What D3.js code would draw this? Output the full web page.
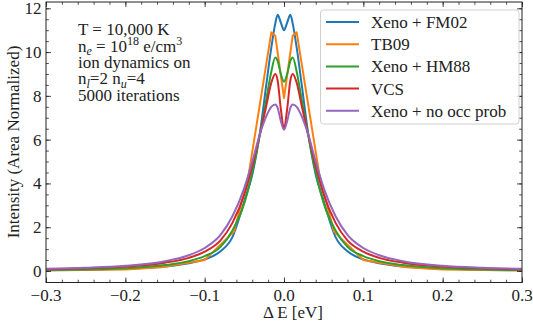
<!DOCTYPE html>
<html>
<head>
<meta charset="utf-8">
<script src="https://cdn.jsdelivr.net/npm/d3@7"></script>
</head>
<body style="margin:0">
<svg id="chart" width="533" height="327"></svg>
<script>
// energy grid (eV) for the smooth curves
var energy = [-0.3, -0.25, -0.2, -0.15, -0.12, -0.1, -0.08, -0.065, -0.05, -0.04, -0.03, -0.022, -0.016, -0.011, -0.008, -0.004, 0,
              0.004, 0.008, 0.011, 0.016, 0.022, 0.03, 0.04, 0.05, 0.065, 0.08, 0.1, 0.12, 0.15, 0.2, 0.25, 0.3];

var xenoFM02 = [0.03, 0.05, 0.1, 0.2, 0.35, 0.53, 0.9, 1.55, 3.2, 4.4, 6.4, 8.6, 10.2, 11.3, 11.7, 11.35, 11.0,
                11.35, 11.7, 11.3, 10.2, 8.6, 6.4, 4.4, 3.2, 1.55, 0.9, 0.53, 0.35, 0.2, 0.1, 0.05, 0.03];
var xenoHM88 = [0.04, 0.07, 0.13, 0.27, 0.45, 0.68, 1.1, 1.85, 3.1, 4.5, 6.3, 7.9, 9.1, 9.75, 9.6, 9.0, 8.65,
                9.0, 9.6, 9.75, 9.1, 7.9, 6.3, 4.5, 3.1, 1.85, 1.1, 0.68, 0.45, 0.27, 0.13, 0.07, 0.04];
var vcs      = [0.07, 0.12, 0.2, 0.38, 0.6, 0.88, 1.4, 2.2, 3.5, 4.8, 6.3, 7.6, 8.6, 9.0, 8.7, 7.4, 6.5,
                7.4, 8.7, 9.0, 8.6, 7.6, 6.3, 4.8, 3.5, 2.2, 1.4, 0.88, 0.6, 0.38, 0.2, 0.12, 0.07];
var xenoNoOcc = [0.1, 0.15, 0.24, 0.45, 0.72, 1.05, 1.65, 2.5, 3.8, 5.0, 6.3, 7.1, 7.5, 7.6, 7.45, 6.85, 6.45,
                 6.85, 7.45, 7.6, 7.5, 7.1, 6.3, 5.0, 3.8, 2.5, 1.65, 1.05, 0.72, 0.45, 0.24, 0.15, 0.1];

// TB09 is tabulated on a coarse grid
var energyTB09 = [-0.3, -0.2, -0.155, -0.1, -0.063, -0.045, -0.016, -0.011, 0, 0.011, 0.016, 0.045, 0.063, 0.1, 0.155, 0.2, 0.3];
var tb09 = [0.03, 0.07, 0.17, 0.5, 1.8, 4.3, 10.9, 10.75, 7.9, 10.75, 10.9, 4.3, 1.8, 0.5, 0.17, 0.07, 0.03];

var seriesNames = ["Xeno + FM02", "TB09", "Xeno + HM88", "VCS", "Xeno + no occ prob"];
var seriesColors = ["#1f77b4", "#ff7f0e", "#2ca02c", "#d62728", "#9467bd"];

var xTicks = [-0.3, -0.2, -0.1, 0.0, 0.1, 0.2, 0.3];
var yTicks = [0, 2, 4, 6, 8, 10, 12];

var series = [
  { name: seriesNames[0], x: energy, y: xenoFM02, color: seriesColors[0], curve: d3.curveMonotoneX },
  { name: seriesNames[1], x: energyTB09, y: tb09, color: seriesColors[1], curve: d3.curveLinear },
  { name: seriesNames[2], x: energy, y: xenoHM88, color: seriesColors[2], curve: d3.curveMonotoneX },
  { name: seriesNames[3], x: energy, y: vcs, color: seriesColors[3], curve: d3.curveMonotoneX },
  { name: seriesNames[4], x: energy, y: xenoNoOcc, color: seriesColors[4], curve: d3.curveMonotoneX }
];

var FONT = "'Liberation Serif'";
var svg = d3.select('#chart');
var pLeft = 46, pRight = 522, pTop = 2, pBottom = 282.5;

var x = d3.scaleLinear().domain([-0.3, 0.3]).range([pLeft, pRight]);
var y = d3.scaleLinear().domain([0, 12]).range([271, 8.3]);

svg.append('clipPath').attr('id', 'clip')
  .append('rect').attr('x', pLeft).attr('y', pTop).attr('width', pRight - pLeft).attr('height', pBottom - pTop);

var lines = svg.append('g').attr('clip-path', 'url(#clip)');
series.forEach(function (s) {
  var pts = s.x.map(function (e, i) { return [e, s.y[i]]; });
  lines.append('path')
    .datum(pts)
    .attr('fill', 'none')
    .attr('stroke', s.color)
    .attr('stroke-width', 2)
    .attr('stroke-linejoin', 'round')
    .attr('d', d3.line().curve(s.curve)
      .x(function (d) { return x(d[0]); })
      .y(function (d) { return y(d[1]); }));
});

// axes, ticks pointing inward on all four sides
var xMinor = d3.range(-30, 31, 2).map(function (v) { return v / 100; });
var yMinor = d3.range(-1, 25).map(function (v) { return v / 2; })
  .filter(function (v) { return y(v) >= pTop && y(v) <= pBottom; });

function tickAxis (axis, scale, ticks, size, pos) {
  var g = svg.append('g').attr('transform', pos)
    .call(axis(scale).tickValues(ticks).tickSize(size).tickFormat(''));
  g.select('.domain').remove();
  g.selectAll('line').attr('stroke', '#222').attr('stroke-width', 0.8);
  return g;
}
tickAxis(d3.axisTop, x, xTicks, 5, 'translate(0,' + pBottom + ')');
tickAxis(d3.axisTop, x, xMinor, 2.8, 'translate(0,' + pBottom + ')');
tickAxis(d3.axisBottom, x, xTicks, 5, 'translate(0,' + pTop + ')');
tickAxis(d3.axisBottom, x, xMinor, 2.8, 'translate(0,' + pTop + ')');
tickAxis(d3.axisRight, y, yTicks, 5, 'translate(' + pLeft + ',0)');
tickAxis(d3.axisRight, y, yMinor, 2.8, 'translate(' + pLeft + ',0)');
tickAxis(d3.axisLeft, y, yTicks, 5, 'translate(' + pRight + ',0)');
tickAxis(d3.axisLeft, y, yMinor, 2.8, 'translate(' + pRight + ',0)');

svg.append('rect')
  .attr('x', pLeft).attr('y', pTop).attr('width', pRight - pLeft).attr('height', pBottom - pTop)
  .attr('fill', 'none').attr('stroke', '#222').attr('stroke-width', 1);

function label (sel) {
  return sel.attr('fill', '#222')
    .style('font-family', FONT)
    .style('font-size', '17px');
}

// tick labels
svg.append('g').selectAll('text').data(xTicks).enter().append('text')
  .attr('x', function (d) { return x(d); })
  .attr('y', 301)
  .attr('text-anchor', 'middle')
  .call(label)
  .text(function (d) { return d3.format('.1f')(d).replace('-', '\u2212'); });

svg.append('g').selectAll('text').data(yTicks).enter().append('text')
  .attr('x', 41.5)
  .attr('y', function (d) { return y(d) + 6; })
  .attr('text-anchor', 'end')
  .call(label)
  .text(function (d) { return d; });

// axis titles
svg.append('text')
  .attr('transform', 'translate(19,142) rotate(-90)')
  .attr('text-anchor', 'middle')
  .call(label)
  .text('Intensity (Area Normalized)');

svg.append('text')
  .attr('x', 293).attr('y', 318)
  .attr('text-anchor', 'middle')
  .call(label)
  .text('\u0394 E [eV]');

// annotation block
function sub (t, s, italic) {
  t.append('tspan').attr('dy', 3.5).style('font-size', '12px')
    .style('font-style', italic ? 'italic' : 'normal').text(s);
}
var note = svg.append('g');
note.append('text').attr('x', 78).attr('y', 34.5).call(label).text('T = 10,000 K');
var t2 = note.append('text').attr('x', 78).attr('y', 51.5).call(label);
t2.append('tspan').text('n');
sub(t2, 'e', true);
t2.append('tspan').attr('dy', -3.5).text(' = 10');
t2.append('tspan').attr('dy', -6.5).style('font-size', '12px').text('18');
t2.append('tspan').attr('dy', 6.5).text(' e/cm');
t2.append('tspan').attr('dy', -6.5).style('font-size', '12px').text('3');
note.append('text').attr('x', 78).attr('y', 68).call(label).text('ion dynamics on');
var t4 = note.append('text').attr('x', 78).attr('y', 84).call(label);
t4.append('tspan').text('n');
sub(t4, 'l', true);
t4.append('tspan').attr('dy', -3.5).text('=2 n');
sub(t4, 'u', true);
t4.append('tspan').attr('dy', -3.5).text('=4');
note.append('text').attr('x', 78).attr('y', 100.5).call(label).text('5000 iterations');

// legend
var legend = svg.append('g');
legend.append('rect')
  .attr('x', 320.5).attr('y', 10).attr('width', 198.5).attr('height', 114)
  .attr('rx', 3).attr('fill', '#fff').attr('fill-opacity', 0.8)
  .attr('stroke', '#d0d0d0').attr('stroke-width', 1);
var rows = legend.selectAll('g.row').data(series).enter().append('g')
  .attr('transform', function (d, i) { return 'translate(0,' + (22 + i * 22.2) + ')'; });
rows.append('line')
  .attr('x1', 326).attr('x2', 359).attr('y1', 0).attr('y2', 0)
  .attr('stroke', function (d) { return d.color; }).attr('stroke-width', 2);
rows.append('text')
  .attr('x', 371).attr('y', 6)
  .call(label)
  .text(function (d) { return d.name; });
</script>
</body>
</html>
